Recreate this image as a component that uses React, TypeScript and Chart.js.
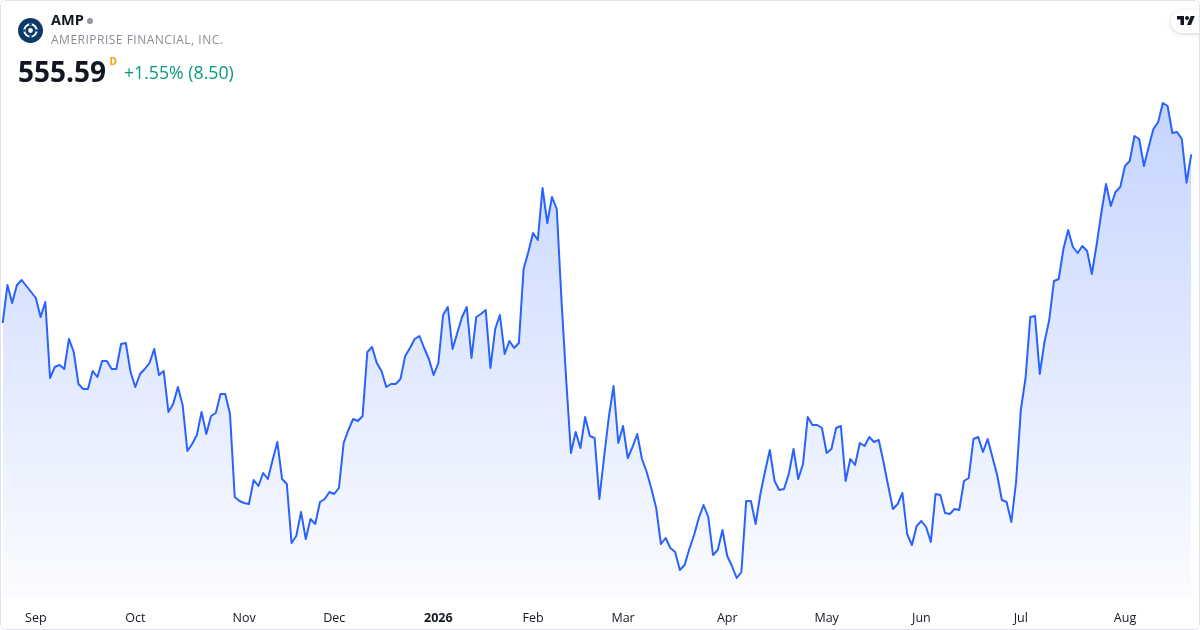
import React, { useEffect, useRef } from "react";
import { Chart, registerables } from "chart.js";

Chart.register(...registerables);

// Daily closes (USD), one per trading day, late Aug 2025 → Aug 2026
const closes: number[] = [
  505.0, 516.4, 511.0, 516.4, 517.9, 516.1, 514.3, 512.5, 506.8, 511.3, 488.5, 491.8,
  492.4, 491.2, 500.2, 496.3, 486.7, 485.2, 485.2, 490.6, 488.8, 493.6, 493.6, 491.2,
  491.2, 498.7, 499.0, 490.3, 485.8, 489.7, 491.2, 493.0, 497.2, 489.4, 490.6, 478.3,
  480.7, 485.8, 480.4, 466.6, 468.7, 471.4, 478.3, 471.7, 477.1, 478.0, 483.7, 483.7,
  477.7, 452.8, 451.6, 451.0, 450.7, 457.9, 456.1, 460.0, 458.2, 463.9, 469.3, 458.2,
  456.7, 439.0, 441.1, 448.3, 440.2, 446.2, 444.7, 451.3, 452.2, 454.3, 453.7, 455.5,
  469.0, 472.9, 476.2, 475.6, 477.1, 496.3, 497.8, 493.0, 490.6, 485.8, 486.7, 486.7,
  488.2, 495.1, 497.5, 500.2, 501.1, 497.5, 494.2, 489.4, 493.0, 507.4, 509.8, 497.2,
  502.0, 506.8, 509.8, 494.5, 506.8, 507.7, 508.9, 491.5, 503.2, 507.4, 495.7, 499.6,
  497.5, 499.0, 521.2, 526.3, 532.0, 529.9, 545.5, 535.0, 542.8, 539.2, 511.9, 487.9,
  466.0, 472.3, 467.5, 476.8, 471.1, 470.5, 452.2, 464.8, 476.8, 486.1, 469.0, 474.1,
  464.5, 467.8, 471.7, 464.2, 460.3, 455.2, 449.5, 438.7, 440.5, 437.5, 436.3, 430.9,
  432.4, 437.2, 441.4, 446.5, 450.4, 446.8, 435.4, 436.9, 442.9, 435.1, 432.1, 428.5,
  430.3, 451.6, 451.6, 444.7, 453.7, 460.6, 466.9, 457.6, 454.9, 455.2, 459.7, 467.2,
  458.2, 462.7, 476.8, 474.4, 474.4, 473.5, 466.0, 467.2, 473.5, 474.1, 457.6, 464.2,
  462.4, 469.0, 468.1, 470.8, 469.3, 469.9, 463.3, 456.1, 449.2, 450.7, 454.0, 441.7,
  438.4, 444.1, 445.6, 443.8, 439.3, 453.7, 453.4, 448.0, 447.7, 449.2, 448.9, 457.6,
  458.5, 470.2, 470.8, 466.3, 470.2, 464.8, 459.4, 451.9, 451.3, 445.3, 457.3, 478.9,
  488.5, 506.8, 507.1, 489.7, 499.3, 505.9, 517.6, 518.2, 527.2, 532.9, 527.8, 526.0,
  528.1, 526.6, 519.7, 528.4, 538.0, 546.7, 540.1, 544.3, 545.8, 552.1, 553.6, 561.1,
  560.2, 552.1, 557.8, 563.2, 565.3, 571.0, 570.1, 562.0, 562.3, 560.2, 547.09, 555.59,
];

// Month-start positions (trading-day index) and their axis labels
const monthTickIndex: number[] = [7, 28, 51, 70, 92, 112, 131, 153, 174, 194, 215, 237];
const monthTickLabels: string[] = ["Sep", "Oct", "Nov", "Dec", "2026", "Feb", "Mar", "Apr", "May", "Jun", "Jul", "Aug"];

const symbol = "AMP";
const companyName = "AMERIPRISE FINANCIAL, INC.";
const lastPrice = "555.59";
const changeText = "+1.55% (8.50)";

const FONT = "'Open Sans', 'DejaVu Sans', sans-serif";

function ChartCanvas() {
  const ref = useRef<HTMLCanvasElement | null>(null);
  useEffect(() => {
    if (!ref.current) return;
    const points = closes.map((v, i) => ({ x: i, y: v }));
    const chart = new Chart(ref.current, {
      type: "line",
      data: {
        datasets: [
          {
            data: points,
            borderColor: "#2962ff",
            borderWidth: 2,
            borderJoinStyle: "round",
            pointRadius: 0,
            tension: 0,
            fill: "start",
            backgroundColor: (c: any) => {
              const ch = c.chart;
              const area = ch.chartArea;
              if (!area) return "rgba(41,98,255,0.15)";
              const g = ch.ctx.createLinearGradient(0, area.top, 0, area.bottom);
              g.addColorStop(0, "rgba(41,98,255,0.32)");
              g.addColorStop(1, "rgba(41,98,255,0.02)");
              return g;
            },
          },
        ],
      },
      options: {
        animation: false,
        responsive: false,
        maintainAspectRatio: false,
        layout: { padding: 0 },
        plugins: { legend: { display: false }, tooltip: { enabled: false } },
        scales: {
          x: {
            type: "linear",
            min: -0.57,
            max: 252.84,
            grid: { display: false, drawTicks: false },
            border: { display: false },
            afterFit: (s: any) => {
              s.height = 32;
            },
            afterBuildTicks: (s: any) => {
              s.ticks = monthTickIndex.map((v) => ({ value: v }));
            },
            ticks: {
              autoSkip: false,
              maxRotation: 0,
              padding: 13,
              color: "#131722",
              font: (c: any) => ({
                family: FONT,
                size: 12.5,
                weight: c.tick && c.tick.value === 92 ? "bold" : "normal",
              }),
              callback: (v: any) => {
                const k = monthTickIndex.indexOf(Number(v));
                return k >= 0 ? monthTickLabels[k] : "";
              },
            },
          },
          y: {
            display: false,
            min: 422.5,
            max: 601.9,
          },
        },
      },
    });
    return () => chart.destroy();
  }, []);
  return (
    <canvas
      ref={ref}
      width={1200}
      height={630}
      style={{ position: "absolute", left: 0, top: 0, width: 1200, height: 630 }}
    />
  );
}

export default function App() {
  useEffect(() => {
    document.body.style.margin = "0";
  }, []);
  return (
    <div
      style={{
        position: "absolute",
        left: 0,
        top: 0,
        width: 1200,
        height: 630,
        overflow: "hidden",
        background: "#ffffff",
        borderRadius: 6,
        fontFamily: FONT,
      }}
    >
      <ChartCanvas />
      {/* company logo */}
      <svg
        width={25}
        height={25}
        viewBox="0 0 25 25"
        style={{ position: "absolute", left: 18, top: 18 }}
      >
        <circle cx={12.5} cy={12.5} r={12.5} fill="#0d3a6b" />
        <circle cx={12.5} cy={12.5} r={6.2} fill="none" stroke="#ffffff" strokeWidth={2} />
        <circle cx={12.5} cy={12.5} r={2.4} fill="#ffffff" />
        <circle cx={12.5} cy={6.3} r={1.3} fill="#0d3a6b" />
        <circle cx={12.5} cy={18.7} r={1.3} fill="#0d3a6b" />
        <circle cx={6.3} cy={12.5} r={1.3} fill="#0d3a6b" />
        <circle cx={18.7} cy={12.5} r={1.3} fill="#0d3a6b" />
      </svg>
      <div
        style={{
          position: "absolute",
          left: 51,
          top: 13,
          fontSize: 14.5,
          lineHeight: 1,
          fontWeight: 700,
          color: "#131722",
        }}
      >
        {symbol}
      </div>
      <div
        style={{
          position: "absolute",
          left: 87.3,
          top: 18.3,
          width: 5.5,
          height: 5.5,
          borderRadius: "50%",
          background: "#9598a1",
        }}
      />
      <div
        style={{
          position: "absolute",
          left: 51,
          top: 34.3,
          fontSize: 12,
          lineHeight: 1,
          letterSpacing: 0.5,
          color: "#8a8d96",
          whiteSpace: "nowrap",
        }}
      >
        {companyName}
      </div>
      <div
        style={{
          position: "absolute",
          left: 18,
          top: 56.8,
          fontSize: 28,
          lineHeight: 1,
          fontWeight: 700,
          color: "#131722",
        }}
      >
        {lastPrice}
      </div>
      <div
        style={{
          position: "absolute",
          left: 109.5,
          top: 56,
          fontSize: 10,
          lineHeight: 1,
          fontWeight: 700,
          color: "#ff9800",
        }}
      >
        D
      </div>
      <div
        style={{
          position: "absolute",
          left: 124,
          top: 64.3,
          fontSize: 17.7,
          lineHeight: 1,
          color: "#089981",
          whiteSpace: "nowrap",
        }}
      >
        {changeText}
      </div>
      {/* TradingView badge */}
      <div
        style={{
          position: "absolute",
          left: 1171,
          top: 10,
          width: 40,
          height: 23,
          borderRadius: 12,
          background: "#ffffff",
          boxShadow: "0 1px 4px rgba(0,0,0,0.18)",
        }}
      >
        <svg
          width={18}
          height={14}
          viewBox="0 0 36 28"
          style={{ position: "absolute", left: 6, top: 4 }}
        >
          <path d="M14 22H7V11H0V4h14v18z" fill="#131722" />
          <path d="M28 22h-8l7.5-18h8z" fill="#131722" />
          <circle cx={20} cy={8} r={4} fill="#131722" />
        </svg>
      </div>
      {/* frame */}
      <div
        style={{
          position: "absolute",
          left: 0,
          top: 0,
          width: 1200,
          height: 630,
          boxSizing: "border-box",
          border: "1px solid #e0e3eb",
          borderRadius: 6,
          pointerEvents: "none",
        }}
      />
    </div>
  );
}
